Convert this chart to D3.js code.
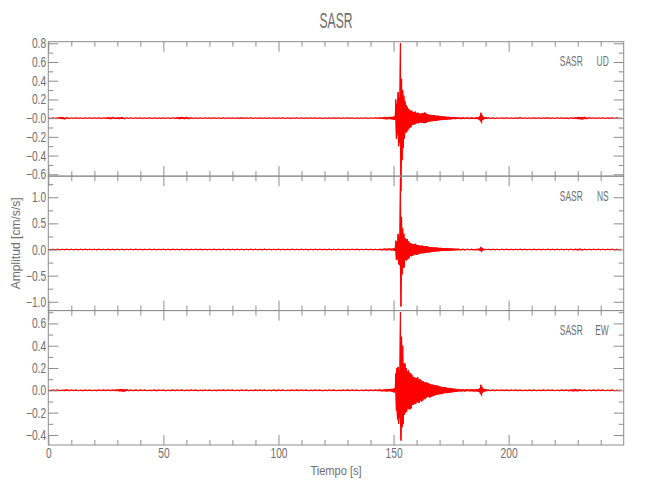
<!DOCTYPE html>
<html><head><meta charset="utf-8">
<script src="https://cdn.jsdelivr.net/npm/d3@7"></script>
<style>
body{margin:0;background:#fff}
text{font-family:"Liberation Sans",Arial,sans-serif;fill:#6e6e6e}
</style></head><body><svg id="c" width="650" height="500"></svg>
<script>
// ---------- data ----------
const chartTitle = "SASR";
const station = "SASR";
const components = ["UD", "NS", "EW"];
const xLabel = "Tiempo [s]";
const yLabel = "Amplitud [cm/s/s]";
const xDomain = [0, 249.99];
const xMajor = [0, 50, 100, 150, 200];
const xMinor = [10, 20, 30, 40, 60, 70, 80, 90, 110, 120, 130, 140, 160, 170, 180, 190, 210, 220, 230, 240];

const yDomainUD = [-0.62, 0.817];
const yMajorUD = [-0.6, -0.4, -0.2, 0, 0.2, 0.4, 0.6, 0.8];
const yLabelsUD = ["\u22120.6", "\u22120.4", "\u22120.2", "\u22120.0", "0.2", "0.4", "0.6", "0.8"];
const yMinorUD = [-0.5, -0.3, -0.1, 0.1, 0.3, 0.5, 0.7];

const yDomainNS = [-1.168, 1.404];
const yMajorNS = [-1.0, -0.5, 0, 0.5, 1.0];
const yLabelsNS = ["\u22121.0", "\u22120.5", "0.0", "0.5", "1.0"];
const yMinorNS = [-0.75, -0.25, 0.25, 0.75, 1.25];

const yDomainEW = [-0.49, 0.715];
const yMajorEW = [-0.4, -0.2, 0, 0.2, 0.4, 0.6];
const yLabelsEW = ["\u22120.4", "\u22120.2", "0.0", "0.2", "0.4", "0.6"];
const yMinorEW = [-0.3, -0.1, 0.1, 0.3, 0.5, 0.7];

// sample times of the record segments (s)
const preTimes = d3.range(0, 150, 1);
const eventTimes = d3.range(150, 178, 0.25);
const midTimes = d3.range(178, 186, 1);
const burstTimes = d3.range(186, 191, 0.25);
const postTimes = d3.range(191, 250, 1);

// UD acceleration (cm/s/s)
const udPre = [0.004,-0.005,0.003,-0.004,0.005,-0.004,0.011,-0.012,0.008,-0.006,
 0.004,-0.004,0.005,-0.003,0.004,-0.005,0.003,-0.004,0.005,-0.004,
 0.004,-0.003,0.005,-0.005,0.004,-0.004,0.008,-0.01,0.009,-0.007,
 0.006,-0.008,0.01,-0.009,0.005,-0.004,0.004,-0.005,0.004,-0.003,
 0.004,-0.005,0.003,-0.004,0.005,-0.004,0.003,-0.005,0.004,-0.005,
 0.005,-0.004,0.003,-0.005,0.005,-0.004,0.007,-0.009,0.011,-0.01,
 0.01,-0.008,0.006,-0.005,0.004,-0.005,0.003,-0.004,0.005,-0.003,
 0.004,-0.005,0.005,-0.004,0.003,-0.004,0.005,-0.005,0.004,-0.003,
 0.005,-0.004,0.003,-0.005,0.006,-0.005,0.004,-0.003,0.005,-0.004,
 0.003,-0.005,0.004,-0.003,0.005,-0.005,0.004,-0.004,0.003,-0.005,
 0.005,-0.003,0.004,-0.005,0.005,-0.004,0.003,-0.004,0.005,-0.005,
 0.004,-0.005,0.003,-0.004,0.005,-0.003,0.005,-0.004,0.004,-0.005,
 0.003,-0.005,0.005,-0.004,0.004,-0.003,0.005,-0.005,0.004,-0.004,
 0.005,-0.003,0.004,-0.005,0.003,-0.005,0.004,-0.004,0.005,-0.005,
 0.004,-0.003,0.005,-0.004,0.006,-0.007,0.009,-0.012,0.013,-0.011];
const udEvent = [0.015,-0.02,0.018,-0.012, 0.2,-0.22,0.15,-0.18, 0.28,-0.3,0.22,-0.26,
 0.8,-0.78,0.42,-0.45, 0.3,-0.32,0.24,-0.22, 0.18,-0.16,0.14,-0.15,
 0.12,-0.13,0.1,-0.11, 0.09,-0.1,0.08,-0.09, 0.08,-0.07,0.065,-0.07,
 0.06,-0.065,0.07,-0.06, 0.055,-0.05,0.06,-0.055, 0.05,-0.045,0.05,-0.05,
 0.045,-0.05,0.055,-0.045, 0.05,-0.055,0.06,-0.05, 0.055,-0.05,0.045,-0.04,
 0.04,-0.038,0.035,-0.04, 0.035,-0.03,0.032,-0.035, 0.03,-0.028,0.03,-0.027,
 0.028,-0.03,0.025,-0.027, 0.025,-0.024,0.026,-0.022, 0.02,-0.022,0.018,-0.02,
 0.018,-0.019,0.02,-0.017, 0.017,-0.015,0.016,-0.017, 0.014,-0.016,0.013,-0.015,
 0.014,-0.012,0.012,-0.013, 0.011,-0.012,0.012,-0.01, 0.01,-0.009,0.01,-0.011,
 0.009,-0.01,0.008,-0.009];
const udMid = [0.008,-0.009,0.007,-0.008,0.008,-0.007,0.006,-0.008];
const udBurst = [0.008,-0.009,0.01,-0.012, 0.012,-0.015,0.02,-0.03, 0.058,-0.055,0.03,-0.02,
 0.015,-0.012,0.01,-0.009, 0.008,-0.008,0.007,-0.007];
const udPost = [0.006,-0.005,0.005,-0.006,0.004,-0.005,0.005,-0.004,0.005,-0.005,
 0.004,-0.005,0.005,-0.004,0.006,-0.004,0.005,-0.005,0.004,-0.005,
 0.005,-0.004,0.004,-0.005,0.005,-0.004,0.006,-0.005,0.004,-0.005,
 0.005,-0.004,0.005,-0.005,0.004,-0.006,0.005,-0.004,0.006,-0.008,
 0.012,-0.014,0.013,-0.01,0.007,-0.005,0.004,-0.005,0.005,-0.004,
 0.005,-0.005,0.004,-0.005,0.005,-0.004,0.005,-0.005,0.004];

// NS acceleration (cm/s/s)
const nsPre = [0.008,-0.01,0.009,-0.008,0.011,-0.009,0.008,-0.009,0.01,-0.008,
 0.009,-0.009,0.008,-0.01,0.009,-0.008,0.011,-0.009,0.008,-0.008,
 0.009,-0.011,0.01,-0.008,0.008,-0.009,0.01,-0.01,0.008,-0.011,
 0.01,-0.008,0.009,-0.01,0.008,-0.008,0.01,-0.009,0.011,-0.008,
 0.008,-0.01,0.009,-0.008,0.01,-0.009,0.008,-0.01,0.009,-0.008,
 0.011,-0.009,0.008,-0.01,0.01,-0.008,0.009,-0.011,0.01,-0.009,
 0.008,-0.01,0.009,-0.008,0.01,-0.008,0.01,-0.009,0.008,-0.01,
 0.009,-0.008,0.011,-0.01,0.008,-0.009,0.01,-0.008,0.009,-0.01,
 0.008,-0.01,0.01,-0.008,0.009,-0.011,0.008,-0.009,0.01,-0.008,
 0.01,-0.009,0.008,-0.01,0.011,-0.008,0.009,-0.01,0.008,-0.008,
 0.01,-0.009,0.008,-0.01,0.009,-0.008,0.011,-0.01,0.008,-0.009,
 0.01,-0.008,0.009,-0.011,0.008,-0.01,0.01,-0.008,0.009,-0.008,
 0.008,-0.01,0.011,-0.009,0.008,-0.01,0.01,-0.008,0.009,-0.01,
 0.01,-0.008,0.009,-0.008,0.01,-0.011,0.008,-0.009,0.01,-0.01,
 0.009,-0.01,0.008,-0.01,0.011,-0.012,0.014,-0.015,0.018,-0.016];
const nsEvent = [0.02,-0.025,0.02,-0.018, 0.17,-0.2,0.14,-0.18, 0.3,-0.28,0.24,-0.3,
 1.35,-1.09,0.62,-0.48, 0.4,-0.35,0.3,-0.34, 0.22,-0.2,0.19,-0.21,
 0.2,-0.18,0.16,-0.17, 0.13,-0.12,0.12,-0.13, 0.11,-0.12,0.1,-0.11,
 0.1,-0.09,0.11,-0.1, 0.09,-0.1,0.08,-0.09, 0.08,-0.075,0.07,-0.08,
 0.07,-0.065,0.075,-0.07, 0.065,-0.07,0.06,-0.065, 0.06,-0.055,0.065,-0.06,
 0.055,-0.05,0.05,-0.055, 0.045,-0.05,0.045,-0.04, 0.04,-0.045,0.04,-0.038,
 0.038,-0.035,0.04,-0.036, 0.035,-0.034,0.032,-0.035, 0.03,-0.028,0.032,-0.029,
 0.028,-0.03,0.026,-0.027, 0.026,-0.024,0.025,-0.026, 0.023,-0.025,0.022,-0.023,
 0.021,-0.02,0.022,-0.019, 0.018,-0.02,0.019,-0.017, 0.017,-0.016,0.015,-0.017,
 0.015,-0.014,0.014,-0.015];
const nsMid = [0.014,-0.013,0.012,-0.013,0.012,-0.011,0.011,-0.012];
const nsBurst = [0.011,-0.012,0.012,-0.013, 0.014,-0.016,0.02,-0.028, 0.05,-0.046,0.028,-0.02,
 0.016,-0.014,0.012,-0.011, 0.011,-0.01,0.01,-0.01];
const nsPost = [0.011,-0.01,0.01,-0.011,0.009,-0.01,0.01,-0.009,0.01,-0.01,
 0.009,-0.01,0.01,-0.008,0.011,-0.009,0.009,-0.01,0.008,-0.01,
 0.01,-0.009,0.008,-0.01,0.009,-0.008,0.011,-0.01,0.009,-0.009,
 0.01,-0.008,0.009,-0.01,0.008,-0.011,0.01,-0.009,0.011,-0.012,
 0.013,-0.012,0.01,-0.009,0.008,-0.01,0.009,-0.008,0.01,-0.009,
 0.008,-0.01,0.009,-0.008,0.01,-0.009,0.008,-0.01,0.009];

// EW acceleration (cm/s/s)
const ewPre = [0.004,-0.005,0.005,-0.004,0.006,-0.005,0.004,-0.005,0.007,-0.006,
 0.005,-0.004,0.005,-0.005,0.004,-0.006,0.005,-0.004,0.005,-0.005,
 0.004,-0.005,0.005,-0.004,0.006,-0.005,0.005,-0.004,0.005,-0.005,
 0.007,-0.008,0.011,-0.012,0.009,-0.007,0.005,-0.005,0.006,-0.005,
 0.005,-0.004,0.005,-0.005,0.004,-0.005,0.005,-0.006,0.005,-0.004,
 0.005,-0.005,0.004,-0.005,0.006,-0.005,0.005,-0.004,0.005,-0.005,
 0.004,-0.005,0.005,-0.004,0.005,-0.006,0.004,-0.005,0.005,-0.004,
 0.005,-0.005,0.004,-0.005,0.005,-0.004,0.006,-0.005,0.005,-0.004,
 0.005,-0.005,0.004,-0.005,0.005,-0.004,0.005,-0.005,0.004,-0.005,
 0.006,-0.005,0.005,-0.004,0.005,-0.005,0.004,-0.005,0.005,-0.006,
 0.005,-0.004,0.005,-0.005,0.004,-0.005,0.005,-0.004,0.006,-0.005,
 0.005,-0.004,0.005,-0.005,0.004,-0.005,0.005,-0.004,0.005,-0.006,
 0.004,-0.005,0.005,-0.004,0.005,-0.005,0.004,-0.005,0.005,-0.004,
 0.006,-0.005,0.005,-0.004,0.005,-0.005,0.004,-0.005,0.005,-0.005,
 0.005,-0.005,0.006,-0.005,0.007,-0.008,0.008,-0.01,0.011,-0.01];
const ewEvent = [0.015,-0.02,0.018,-0.015, 0.15,-0.18,0.2,-0.26, 0.21,-0.3,0.18,-0.25,
 0.7,-0.45,0.48,-0.33, 0.4,-0.3,0.24,-0.22, 0.24,-0.2,0.2,-0.19,
 0.17,-0.16,0.18,-0.17, 0.16,-0.17,0.15,-0.16, 0.14,-0.13,0.12,-0.13,
 0.12,-0.12,0.11,-0.12, 0.11,-0.1,0.12,-0.11, 0.1,-0.11,0.1,-0.09,
 0.09,-0.1,0.08,-0.09, 0.08,-0.075,0.07,-0.08, 0.07,-0.065,0.07,-0.06,
 0.065,-0.06,0.06,-0.065, 0.055,-0.06,0.05,-0.055, 0.05,-0.045,0.05,-0.048,
 0.042,-0.04,0.045,-0.04, 0.04,-0.038,0.04,-0.036, 0.034,-0.032,0.033,-0.034,
 0.03,-0.029,0.03,-0.028, 0.027,-0.025,0.028,-0.025, 0.024,-0.025,0.022,-0.024,
 0.021,-0.02,0.022,-0.019, 0.018,-0.017,0.016,-0.018, 0.015,-0.014,0.014,-0.015,
 0.013,-0.012,0.012,-0.013];
const ewMid = [0.012,-0.011,0.01,-0.011,0.01,-0.009,0.009,-0.01];
const ewBurst = [0.009,-0.01,0.01,-0.011, 0.012,-0.014,0.02,-0.03, 0.05,-0.048,0.03,-0.02,
 0.014,-0.012,0.01,-0.009, 0.008,-0.008,0.007,-0.007];
const ewPost = [0.006,-0.005,0.005,-0.006,0.005,-0.004,0.005,-0.005,0.006,-0.005,
 0.005,-0.004,0.005,-0.006,0.005,-0.005,0.004,-0.005,0.005,-0.006,
 0.005,-0.005,0.004,-0.005,0.006,-0.005,0.005,-0.004,0.005,-0.005,
 0.004,-0.005,0.006,-0.005,0.005,-0.007,0.006,-0.008,0.01,-0.009,
 0.008,-0.006,0.005,-0.005,0.004,-0.005,0.005,-0.006,0.005,-0.004,
 0.005,-0.005,0.004,-0.006,0.005,-0.005,0.004,-0.005,0.005];

// ---------- layout ----------
const svg = d3.select("#c");
const left = 48.3, right = 623.7, top0 = 41.7, bottom0 = 445;
const panelH = (bottom0 - top0) / 3;
const axisColor = "#8c8c8c";
const textColor = "#6e6e6e";
const lineColor = "#ff0000";
const tickFont = 14, tickSqueeze = 0.73;

const x = d3.scaleLinear().domain(xDomain).range([left, right]);

const panels = [
  {comp: components[0], dom: yDomainUD, major: yMajorUD, labels: yLabelsUD, minor: yMinorUD,
   segs: [udPre, udEvent, udMid, udBurst, udPost]},
  {comp: components[1], dom: yDomainNS, major: yMajorNS, labels: yLabelsNS, minor: yMinorNS,
   segs: [nsPre, nsEvent, nsMid, nsBurst, nsPost]},
  {comp: components[2], dom: yDomainEW, major: yMajorEW, labels: yLabelsEW, minor: yMinorEW,
   segs: [ewPre, ewEvent, ewMid, ewBurst, ewPost]}
];
const segTimes = [preTimes, eventTimes, midTimes, burstTimes, postTimes];

function styleAxis(g) {
  g.select(".domain").remove();
  g.selectAll("line").attr("stroke", axisColor).attr("stroke-width", 1);
  g.selectAll("text").attr("font-size", tickFont).attr("fill", textColor)
    .style("font-family", '"Liberation Sans",Arial,sans-serif')
    .attr("transform", `scale(${tickSqueeze},1)`);
}

function squeezedText(parent, tx, ty, str, size, sx, anchor, extra) {
  return parent.append("text")
    .attr("transform", `translate(${tx},${ty})${extra || ""} scale(${sx},1)`)
    .attr("text-anchor", anchor).attr("font-size", size).attr("fill", textColor)
    .text(str);
}

const traces = svg.append("g");
const axesG = svg.append("g");

panels.forEach((p, i) => {
  const pt = top0 + i * panelH, pb = pt + panelH;
  const y = d3.scaleLinear().domain(p.dom).range([pb, pt]);
  const minor = p.minor.filter(v => v >= p.dom[0] && v <= p.dom[1]);
  const isBottom = i === 2;

  axesG.append("g").attr("transform", `translate(0,${pb})`)
    .call(d3.axisBottom(x).tickValues(xMajor).tickSize(-10).tickPadding(3)
      .tickFormat(isBottom ? d3.format("d") : () => ""))
    .call(styleAxis);
  axesG.append("g").attr("transform", `translate(0,${pb})`)
    .call(d3.axisBottom(x).tickValues(xMinor).tickSize(-5).tickFormat(() => ""))
    .call(styleAxis);
  axesG.append("g").attr("transform", `translate(0,${pt})`)
    .call(d3.axisTop(x).tickValues(xMajor).tickSize(-10).tickFormat(() => ""))
    .call(styleAxis);
  axesG.append("g").attr("transform", `translate(0,${pt})`)
    .call(d3.axisTop(x).tickValues(xMinor).tickSize(-5).tickFormat(() => ""))
    .call(styleAxis);

  axesG.append("g").attr("transform", `translate(${left},0)`)
    .call(d3.axisLeft(y).tickValues(p.major).tickSize(-10).tickPadding(3)
      .tickFormat((d, k) => p.labels[k]))
    .call(styleAxis);
  axesG.append("g").attr("transform", `translate(${left},0)`)
    .call(d3.axisLeft(y).tickValues(minor).tickSize(-5).tickFormat(() => ""))
    .call(styleAxis);
  axesG.append("g").attr("transform", `translate(${right},0)`)
    .call(d3.axisRight(y).tickValues(p.major).tickSize(-10).tickFormat(() => ""))
    .call(styleAxis);
  axesG.append("g").attr("transform", `translate(${right},0)`)
    .call(d3.axisRight(y).tickValues(minor).tickSize(-5).tickFormat(() => ""))
    .call(styleAxis);

  axesG.append("rect").attr("x", left).attr("y", pt).attr("width", right - left).attr("height", panelH)
    .attr("fill", "none").attr("stroke", axisColor).attr("stroke-width", 1);

  // samples of this trace
  const pts = [];
  p.segs.forEach((vals, s) => vals.forEach((v, k) => pts.push({t: segTimes[s][k], v: v})));
  // envelope band between consecutive samples (the dense trace seen at this scale)
  const band = pts.slice(0, -1).map((d, k) => ({t: d.t, lo: Math.min(d.v, pts[k + 1].v), hi: Math.max(d.v, pts[k + 1].v)}));
  const area = d3.area().x(d => x(d.t)).y0(d => y(d.lo)).y1(d => y(d.hi));
  traces.append("path").attr("d", area(band)).attr("fill", lineColor).attr("stroke", "none");
  const line = d3.line().x(d => x(d.t)).y(d => y(d.v));
  traces.append("path").attr("d", line(pts)).attr("fill", "none")
    .attr("stroke", lineColor).attr("stroke-width", 1);

  squeezedText(axesG, right - 41, pt + 24.5, station, 14, 0.6, "end");
  squeezedText(axesG, right - 15, pt + 24.5, p.comp, 14, 0.6, "end");
});

squeezedText(svg, (left + right) / 2, 28, chartTitle, 22, 0.55, "middle");
squeezedText(svg, (left + right) / 2, 475, xLabel, 13, 0.85, "middle");
squeezedText(svg, 19.5, (top0 + bottom0) / 2, yLabel, 13, 0.93, "middle", " rotate(-90)");
</script></body></html>
